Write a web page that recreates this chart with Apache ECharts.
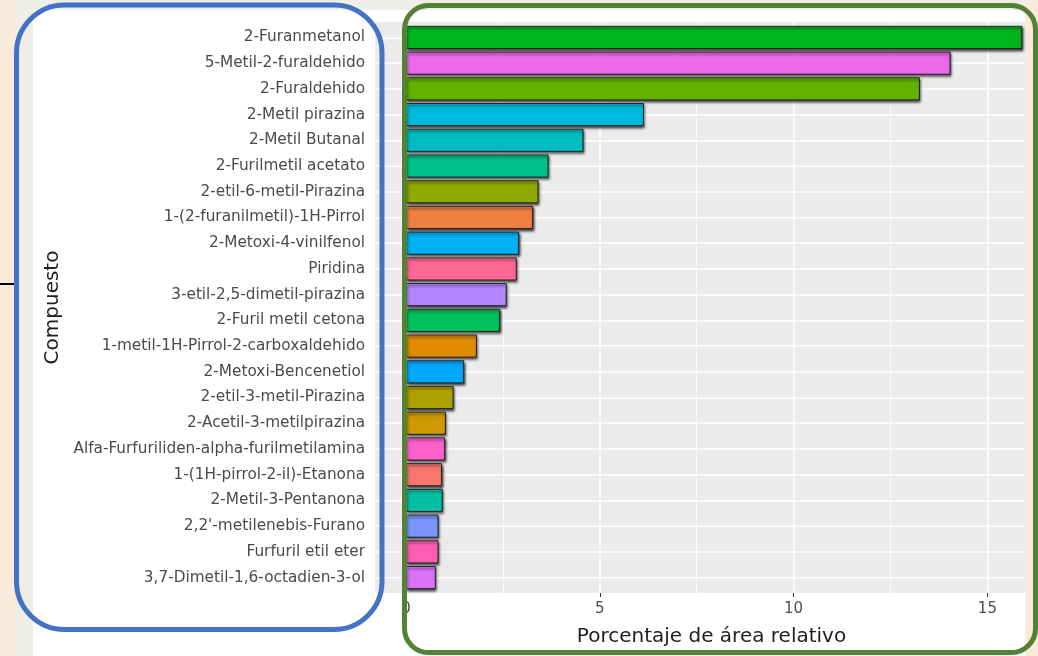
<!DOCTYPE html>
<html>
<head>
<meta charset="utf-8">
<script src="https://cdn.jsdelivr.net/npm/echarts@6/dist/echarts.min.js"></script>
<style>
  html, body { margin: 0; padding: 0; background: #F9EADB; }
  #chart { width: 1038px; height: 656px; }
</style>
</head>
<body>
<div id="chart"></div>
<script>
// Compounds, top to bottom
const compounds = [
  '2-Furanmetanol',
  '5-Metil-2-furaldehido',
  '2-Furaldehido',
  '2-Metil pirazina',
  '2-Metil Butanal',
  '2-Furilmetil acetato',
  '2-etil-6-metil-Pirazina',
  '1-(2-furanilmetil)-1H-Pirrol',
  '2-Metoxi-4-vinilfenol',
  'Piridina',
  '3-etil-2,5-dimetil-pirazina',
  '2-Furil metil cetona',
  '1-metil-1H-Pirrol-2-carboxaldehido',
  '2-Metoxi-Bencenetiol',
  '2-etil-3-metil-Pirazina',
  '2-Acetil-3-metilpirazina',
  'Alfa-Furfuriliden-alpha-furilmetilamina',
  '1-(1H-pirrol-2-il)-Etanona',
  '2-Metil-3-Pentanona',
  "2,2'-metilenebis-Furano",
  'Furfuril etil eter',
  '3,7-Dimetil-1,6-octadien-3-ol'
];

// Relative area percentage of each compound
const areaPct = [
  15.9, 14.05, 13.26, 6.14, 4.58, 3.68, 3.42, 3.28, 2.92, 2.86, 2.60,
  2.43, 1.83, 1.50, 1.23, 1.03, 1.01, 0.93, 0.95, 0.84, 0.84, 0.77
];

// Fill colour of each compound's bar
const barColors = [
  '#00B520', '#ED68EA', '#63B100', '#00BADE', '#00BCC2', '#00C089',
  '#8FAA00', '#EE8040', '#00B1F3', '#FF6795', '#B186FF', '#00C25B',
  '#E08B00', '#00A8FF', '#AEA200', '#CC9A00', '#FF61CC', '#F8766D',
  '#00BFA4', '#7B95FF', '#FF5EB5', '#DB72FB'
];

const xTickValues = [0, 5, 10, 15];

// Panel geometry and value range (range padded 5% like ggplot)
const PANEL = { left: 375, top: 22, width: 650, height: 571 };
const X_MIN = -0.8, X_MAX = 15.97;
const pxPerUnit = PANEL.width / (X_MAX - X_MIN);
const tickLeft = PANEL.left + (0 - X_MIN) * pxPerUnit;
const tickWidth = (xTickValues[xTickValues.length - 1] - xTickValues[0]) * pxPerUnit;
const band = PANEL.height / (compounds.length - 1 + 1.2);

const FONT = '"DejaVu Sans", "Liberation Sans", sans-serif';
const chart = echarts.init(document.getElementById('chart'), null, { renderer: 'canvas' });

chart.setOption({
  backgroundColor: '#F9EADB',
  animation: false,
  grid: [
    { // panel background
      left: PANEL.left, top: PANEL.top, width: PANEL.width, height: PANEL.height,
      show: true, backgroundColor: '#EBEBEB', borderWidth: 0, outerBoundsMode: 'none'
    },
    { // value ticks and vertical grid lines
      left: tickLeft, top: PANEL.top, width: tickWidth, height: PANEL.height,
      outerBoundsMode: 'none'
    },
    { // compounds and bars
      left: PANEL.left, top: PANEL.top + 0.6 * band, width: PANEL.width,
      height: band * (compounds.length - 1), outerBoundsMode: 'none'
    }
  ],
  xAxis: [
    { gridIndex: 0, type: 'value', min: X_MIN, max: X_MAX, show: false },
    {
      gridIndex: 1, type: 'value', min: xTickValues[0], max: xTickValues[xTickValues.length - 1],
      interval: 5,
      axisLine: { show: false },
      axisTick: { show: true, length: 4, lineStyle: { color: '#333333', width: 1 } },
      axisLabel: { color: '#4D4D4D', fontSize: 15, fontFamily: FONT, margin: 9 },
      splitLine: { show: true, lineStyle: { color: '#FFFFFF', width: 1.5 } },
      minorTick: { show: false, splitNumber: 2 },
      minorSplitLine: { show: true, lineStyle: { color: '#FFFFFF', width: 0.8 } }
    },
    { gridIndex: 2, type: 'value', min: X_MIN, max: X_MAX, show: false }
  ],
  yAxis: [
    { gridIndex: 0, type: 'value', show: false },
    { gridIndex: 1, type: 'value', show: false },
    {
      gridIndex: 2, type: 'category', data: compounds, inverse: true, boundaryGap: false,
      axisLine: { show: false },
      axisTick: { show: true, length: 4, interval: 0, lineStyle: { color: '#333333', width: 1 } },
      axisLabel: { color: '#4A4A4A', fontSize: 15.3, fontFamily: FONT, margin: 10, interval: 0 },
      splitLine: { show: true, interval: 0, lineStyle: { color: '#FFFFFF', width: 1.5 } },
      name: 'Compuesto', nameLocation: 'middle', nameRotate: 90, nameGap: 310,
      nameTextStyle: { color: '#1E1E1E', fontSize: 20, fontFamily: FONT }
    }
  ],
  series: [{
    type: 'bar',
    xAxisIndex: 2, yAxisIndex: 2,
    barWidth: '90%',
    clip: false,
    data: areaPct.map((v, i) => ({ value: v, itemStyle: { color: barColors[i] } })),
    itemStyle: {
      borderColor: 'rgba(25,25,25,0.9)', borderWidth: 1,
      shadowColor: 'rgba(0,0,0,0.7)', shadowBlur: 2.5, shadowOffsetX: 1, shadowOffsetY: 2
    }
  }],
  graphic: [
    { type: 'rect', z: -20, silent: true, shape: { x: 16, y: 0, width: 1009, height: 656 }, style: { fill: '#EEEDE7' } },
    { type: 'rect', z: -19, silent: true, shape: { x: 33, y: 10, width: 992, height: 646 }, style: { fill: '#FFFFFF' } },
    {
      type: 'text', z: 5, silent: true, x: 711.5, y: 637,
      style: { text: 'Porcentaje de área relativo', font: '20px ' + FONT, fill: '#1E1E1E',
               align: 'center', verticalAlign: 'middle', textAlign: 'center', textVerticalAlign: 'middle' }
    },
    { type: 'line', z: 8, silent: true, shape: { x1: 0, y1: 284, x2: 16, y2: 284 }, style: { stroke: '#000000', lineWidth: 2 } },
    { type: 'rect', z: 10, silent: true, shape: { x: 16.5, y: 5, width: 365.5, height: 624.5, r: 48 },
      style: { fill: 'none', stroke: '#4472C4', lineWidth: 5 } },
    { type: 'rect', z: 10, silent: true, shape: { x: 404.5, y: 5.5, width: 631, height: 647, r: 24 },
      style: { fill: 'none', stroke: '#548235', lineWidth: 5 } }
  ]
});
</script>
</body>
</html>
